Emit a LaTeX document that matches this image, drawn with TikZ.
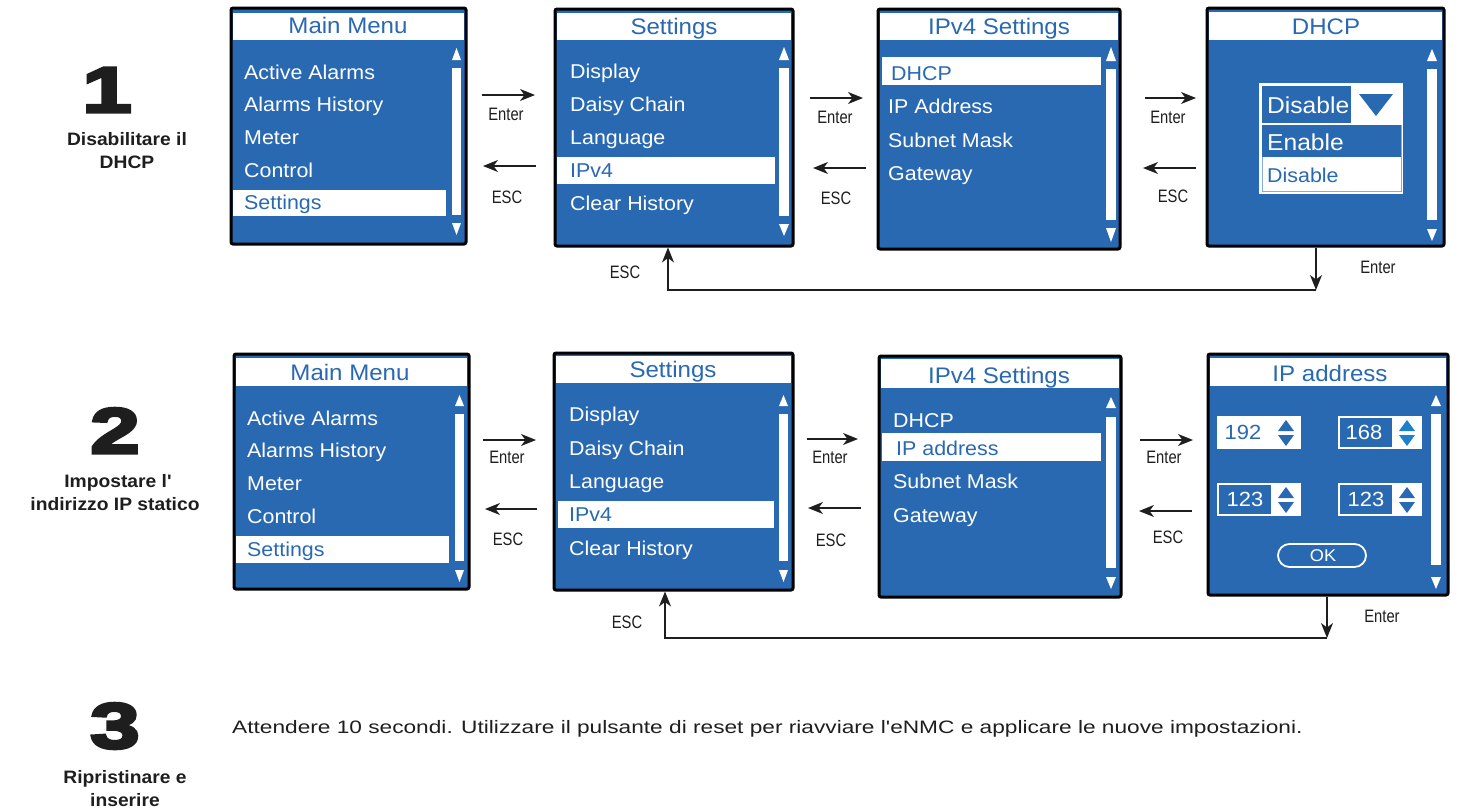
\documentclass[tikz,border=0pt]{standalone}
\usepackage{fontspec}
\setmainfont{Liberation Sans}[FakeStretch=1.07]
\newfontfamily\plainfont{Liberation Sans}[FakeStretch=1.07]
\newfontfamily\widefont{Liberation Sans}[FakeStretch=1.26]
\newfontfamily\condfont{Liberation Sans}[FakeStretch=0.82]
\newfontfamily\numfont{Liberation Sans}[FakeStretch=1.4,BoldFeatures={FakeBold=5}]
\usetikzlibrary{arrows.meta}
\definecolor{scr}{RGB}{41,105,178}
\definecolor{scrlt}{RGB}{30,128,200}
\definecolor{ink}{RGB}{30,30,30}
\newcommand\fitem{\fontsize{20}{22}\selectfont}
\newcommand\fttl{\fontsize{22.5}{24}\selectfont}
\newcommand\scrn[5]{\node[screen, minimum width={#4-#2}, minimum height={#5-#3}] (#1) at ({(#2+#4)/2},{(#3+#5)/2}) {};}
\newcommand\sbar[8]{%
  \fill[white] (#1,#4) -- (#2,#4) -- ({(#1+#2)/2},#3) -- cycle;
  \fill[white] (#1,#5) rectangle (#2,#6);
  \fill[white] (#1,#7) -- (#2,#7) -- ({(#1+#2)/2},#8) -- cycle;}
\newcommand\updn[4]{%
  \fill[#4] ({#1-8},{(#2+#3)/2-2}) -- ({#1+8},{(#2+#3)/2-2}) -- (#1,#2) -- cycle;
  \fill[#4] ({#1-8},{(#2+#3)/2+2}) -- ({#1+8},{(#2+#3)/2+2}) -- (#1,#3) -- cycle;}
\begin{document}
\begin{tikzpicture}[x=1pt,y=-1pt,
  screen/.style={draw=black, line width=3pt, fill=scr, rounded corners=2pt, inner sep=0pt, outer sep=0pt},
  ttl/.style={text=scr, font=\fttl, anchor=base, inner sep=0pt},
  itm/.style={text=white, font=\fitem, anchor=base west, inner sep=0pt},
  sel/.style={text=scr, font=\fitem, anchor=base west, inner sep=0pt},
  lbl/.style={font=\condfont\fontsize{18}{20}\selectfont, inner sep=0pt, text=ink},
  arr/.style={-{Stealth[length=15pt,width=12pt,inset=4.5pt]}, line width=1.4pt, draw=ink},
  steplbl/.style={font=\plainfont\bfseries\fontsize{18}{20}\selectfont, anchor=base, inner sep=0pt, text=ink},
  num/.style={font=\numfont\bfseries\fontsize{64}{64}\selectfont, anchor=base, inner sep=0pt, text=ink},
  num2/.style={font=\fontsize{20.5}{22}\selectfont, anchor=base, inner sep=0pt}
]
\useasboundingbox (0,0) rectangle (1460,809);

% ---------- step labels ----------
\node[num] (n1) at (107,112) {1};
\node[steplbl] (l1a) at (127,145) {Disabilitare il};
\node[steplbl] (l1b) at (127,168) {DHCP};
\node[num] (n2) at (115,453) {2};
\node[steplbl] (l2a) at (118,487) {Impostare l'};
\node[steplbl] (l2b) at (115,510) {indirizzo IP statico};
\node[num] (n3) at (115,748) {3};
\node[steplbl] (l3a) at (125,783) {Ripristinare e};
\node[steplbl] (l3b) at (125,806) {inserire};
\node[anchor=base west, font=\widefont\fontsize{18}{20}\selectfont, inner sep=0pt, text=ink] (t3txt) at (232,733)
  {Attendere 10 secondi. Utilizzare il pulsante di reset per riavviare l'eNMC e applicare le nuove impostazioni.};

% ---------- row 1 ----------
% S1 Main Menu
\scrn{s1}{231}{8}{466}{244}
\fill[white] (233,13) rectangle (464,40);
\node[ttl] (s1t) at (348,33) {Main Menu};
\fill[white] (233,190) rectangle (446,216);
\node[itm] (s1a) at (244,79) {Active Alarms};
\node[itm] (s1b) at (244,111) {Alarms History};
\node[itm] (s1c) at (244,144) {Meter};
\node[itm] (s1d) at (244,177) {Control};
\node[sel] (s1e) at (244,209) {Settings};
\sbar{452}{461}{48}{60}{68}{215}{223}{235}

% S2 Settings
\scrn{s2}{555}{9}{793}{246}
\fill[white] (557,13) rectangle (791,40);
\node[ttl] (s2t) at (674,34) {Settings};
\fill[white] (557,157) rectangle (775,184);
\node[itm] (s2a) at (570,78) {Display};
\node[itm] (s2b) at (570,111) {Daisy Chain};
\node[itm] (s2c) at (570,144) {Language};
\node[sel] (s2d) at (570,177) {IPv4};
\node[itm] (s2e) at (570,210) {Clear History};
\sbar{779}{789}{47}{60}{68}{216}{224}{236}

% S3 IPv4 Settings
\scrn{s3}{878}{9}{1120}{249}
\fill[white] (880,13) rectangle (1118,40);
\node[ttl] (s3t) at (999,34) {IPv4 Settings};
\fill[white] (882,57) rectangle (1101,85);
\node[sel] (s3a) at (891,80) {DHCP};
\node[itm] (s3b) at (888,113) {IP Address};
\node[itm] (s3c) at (888,147) {Subnet Mask};
\node[itm] (s3d) at (888,180) {Gateway};
\sbar{1106}{1116}{47}{61}{69}{220}{228}{242}

% S4 DHCP
\scrn{s4}{1207}{8}{1444}{246}
\fill[white] (1209,12) rectangle (1442,40);
\node[ttl] (s4t) at (1326,34) {DHCP};
\fill[white] (1259,83) rectangle (1403,194);
\fill[scr] (1262,86) rectangle (1351,123);
\fill[scr] (1359,94) -- (1393,94) -- (1376,116) -- cycle;
\draw[scr!55, line width=0.8pt] (1262,125) rectangle (1401,191);
\fill[scr] (1262,125) rectangle (1401,157);
\node[text=white, font=\fontsize{23}{24}\selectfont, anchor=base west, inner sep=0pt] (s4a) at (1267,113) {Disable};
\node[text=white, font=\fontsize{23}{24}\selectfont, anchor=base west, inner sep=0pt] (s4b) at (1267,150) {Enable};
\node[text=scr, font=\fontsize{20}{22}\selectfont, anchor=base west, inner sep=0pt] (s4c) at (1267,182) {Disable};
\sbar{1427}{1437}{49}{61}{69}{220}{229}{241}

% row 1 arrows
\coordinate (e1a) at (482,95);  \coordinate (e1b) at (535,95);
\draw[arr] (e1a) -- (e1b);
\node[lbl] (e1l) at (506,114) {Enter};
\coordinate (x1a) at (536,166); \coordinate (x1b) at (483,166);
\draw[arr] (x1a) -- (x1b);
\node[lbl] (x1l) at (507,197) {ESC};

\coordinate (e2a) at (810,98);  \coordinate (e2b) at (863,98);
\draw[arr] (e2a) -- (e2b);
\node[lbl] (e2l) at (835,117) {Enter};
\coordinate (x2a) at (866,168); \coordinate (x2b) at (813,168);
\draw[arr] (x2a) -- (x2b);
\node[lbl] (x2l) at (836,198) {ESC};

\coordinate (e3a) at (1145,98);  \coordinate (e3b) at (1196,98);
\draw[arr] (e3a) -- (e3b);
\node[lbl] (e3l) at (1168,117) {Enter};
\coordinate (x3a) at (1196,168); \coordinate (x3b) at (1143,168);
\draw[arr] (x3a) -- (x3b);
\node[lbl] (x3l) at (1173,196) {ESC};

\coordinate (r1a) at (1316,290); \coordinate (r1b) at (668,290);
\draw[arr, shorten <=1.5pt] (s4.south -| r1a) -- (r1a);
\draw[arr, shorten >=1.5pt] (r1a) -- (r1b) -- (s2.south -| r1b);
\node[lbl] (r1e) at (1378,267) {Enter};
\node[lbl] (r1x) at (625,272) {ESC};

% ---------- row 2 ----------
% T1 Main Menu
\scrn{t1}{234}{354}{469}{589}
\fill[white] (236,358) rectangle (467,386);
\node[ttl] (t1t) at (350,380) {Main Menu};
\fill[white] (236,536) rectangle (449,563);
\node[itm] (t1a) at (247,425) {Active Alarms};
\node[itm] (t1b) at (247,457) {Alarms History};
\node[itm] (t1c) at (247,490) {Meter};
\node[itm] (t1d) at (247,523) {Control};
\node[sel] (t1e) at (247,556) {Settings};
\sbar{455}{464}{395}{406}{414}{561}{570}{582}

% T2 Settings
\scrn{t2}{554}{353}{793}{590}
\fill[white] (556,356) rectangle (791,383);
\node[ttl] (t2t) at (673,377) {Settings};
\fill[white] (558,501) rectangle (774,528);
\node[itm] (t2a) at (569,421) {Display};
\node[itm] (t2b) at (569,455) {Daisy Chain};
\node[itm] (t2c) at (569,488) {Language};
\node[sel] (t2d) at (569,521) {IPv4};
\node[itm] (t2e) at (569,555) {Clear History};
\sbar{779}{788}{395}{406}{414}{561}{570}{582}

% T3 IPv4 Settings
\scrn{t3}{879}{356}{1121}{597}
\fill[white] (881,359) rectangle (1119,388);
\node[ttl] (t3t) at (999,383) {IPv4 Settings};
\fill[white] (882,433) rectangle (1101,461);
\node[itm] (t3a) at (893,427) {DHCP};
\node[sel] (t3b) at (896,455) {IP address};
\node[itm] (t3c) at (893,488) {Subnet Mask};
\node[itm] (t3d) at (893,522) {Gateway};
\sbar{1106}{1116}{397}{408}{417}{568}{577}{589}

% T4 IP address
\scrn{t4}{1208}{354}{1448}{595}
\fill[white] (1210,358) rectangle (1446,386);
\node[ttl] (t4t) at (1330,381) {IP address};
\fill[white] (1217,416) rectangle (1301,449);
\fill[white] (1338,416) rectangle (1422,449);
\fill[white] (1217,483) rectangle (1301,516);
\fill[white] (1338,483) rectangle (1422,516);
\fill[scr] (1340,418) rectangle (1392,447);
\fill[scr] (1219,485) rectangle (1271,514);
\fill[scr] (1340,485) rectangle (1392,514);
\node[num2, text=scr] (ip1) at (1243,439) {192};
\node[num2, text=white] (ip2) at (1364,439) {168};
\node[num2, text=white] (ip3) at (1245,506) {123};
\node[num2, text=white] (ip4) at (1366,506) {123};
\updn{1286}{420}{446}{scr}
\updn{1407}{420}{446}{scrlt}
\updn{1286}{487}{513}{scr}
\updn{1407}{487}{513}{scr}
\draw[white, line width=1.8pt, rounded corners=11.5pt] (1278,544) rectangle (1366,567);
\node[text=white, font=\fontsize{17}{18}\selectfont, inner sep=0pt] (okb) at (1323,556) {OK};
\sbar{1431}{1441}{395}{406}{414}{565}{577}{589}

% row 2 arrows
\coordinate (f1a) at (483,440);  \coordinate (f1b) at (536,440);
\draw[arr] (f1a) -- (f1b);
\node[lbl] (f1l) at (507,457) {Enter};
\coordinate (y1a) at (537,509); \coordinate (y1b) at (485,509);
\draw[arr] (y1a) -- (y1b);
\node[lbl] (y1l) at (508,539) {ESC};

\coordinate (f2a) at (807,439);  \coordinate (f2b) at (858,439);
\draw[arr] (f2a) -- (f2b);
\node[lbl] (f2l) at (830,457) {Enter};
\coordinate (y2a) at (861,508); \coordinate (y2b) at (808,508);
\draw[arr] (y2a) -- (y2b);
\node[lbl] (y2l) at (831,540) {ESC};

\coordinate (f3a) at (1140,440);  \coordinate (f3b) at (1193,440);
\draw[arr] (f3a) -- (f3b);
\node[lbl] (f3l) at (1164,457) {Enter};
\coordinate (y3a) at (1192,511); \coordinate (y3b) at (1139,511);
\draw[arr] (y3a) -- (y3b);
\node[lbl] (y3l) at (1168,537) {ESC};

\coordinate (r2a) at (1327,638); \coordinate (r2b) at (665,638);
\draw[arr, shorten <=1.5pt] (t4.south -| r2a) -- (r2a);
\draw[arr, shorten >=1.5pt] (r2a) -- (r2b) -- (t2.south -| r2b);
\node[lbl] (r2e) at (1382,616) {Enter};
\node[lbl] (r2x) at (627,622) {ESC};
\end{tikzpicture}
\end{document}
